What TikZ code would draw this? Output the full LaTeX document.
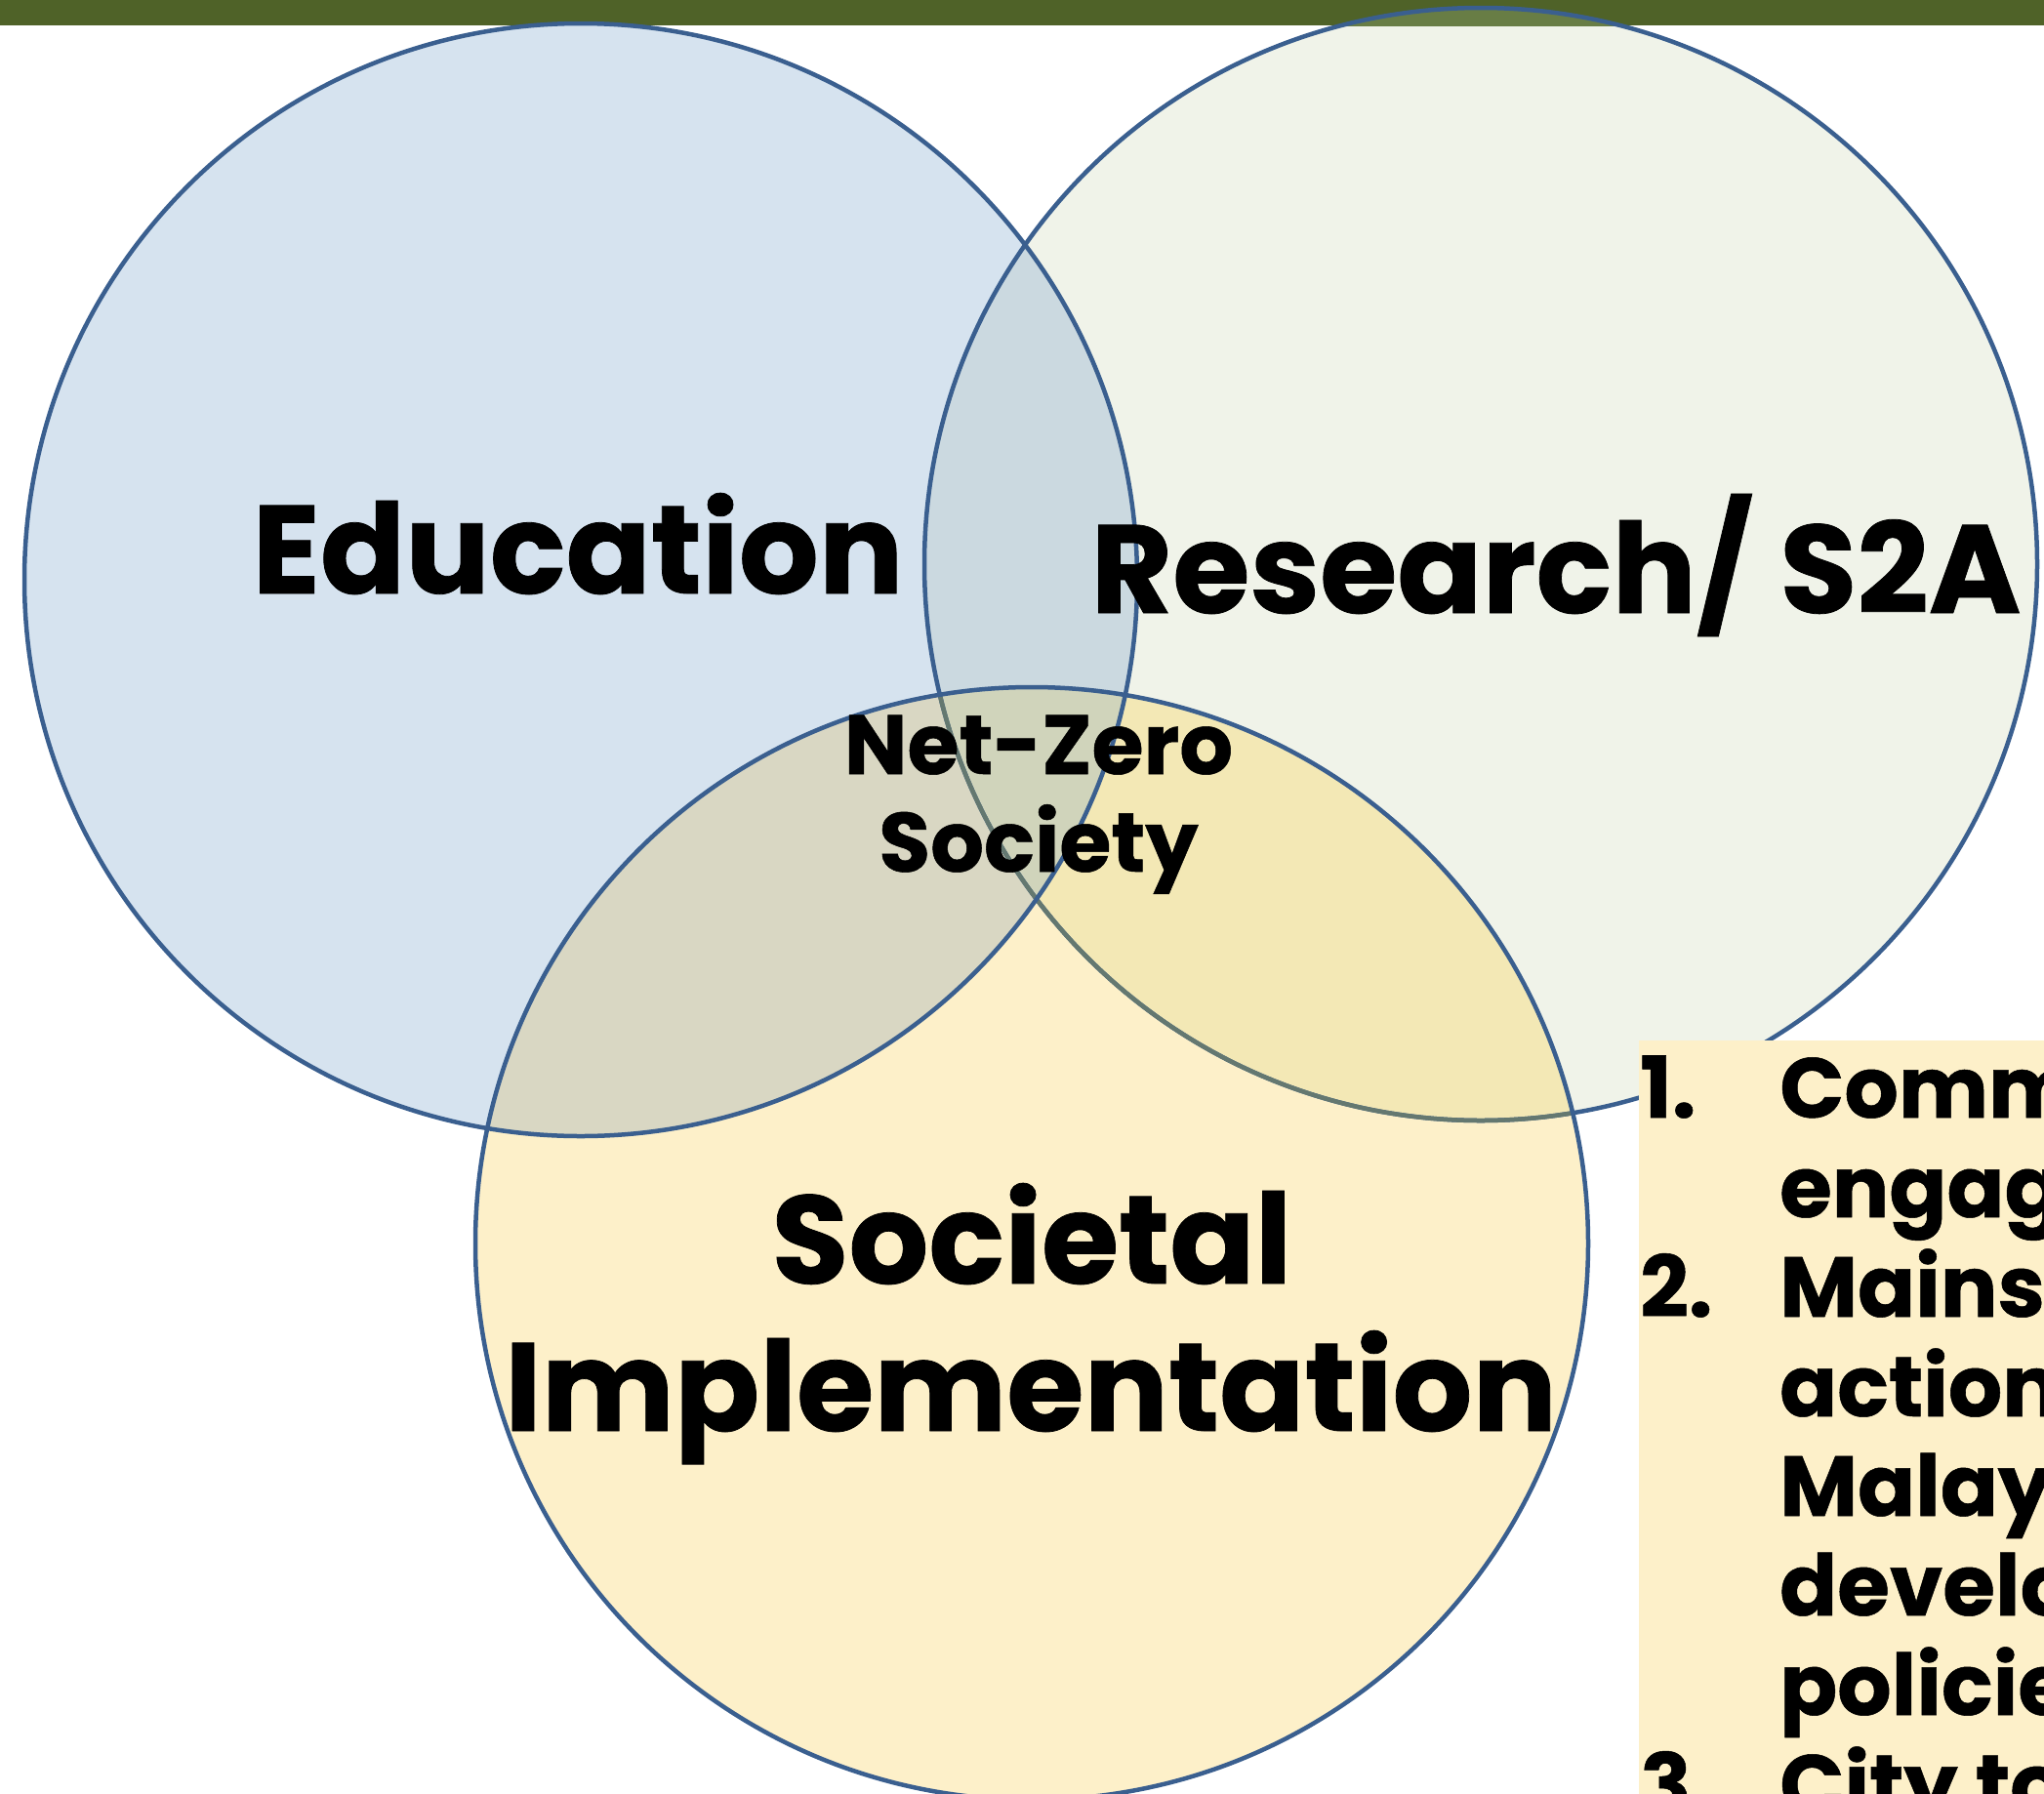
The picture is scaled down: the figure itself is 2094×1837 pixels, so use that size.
\documentclass[tikz,border=0pt]{standalone}
\usepackage{fontspec}
\setmainfont{Poppins}[BoldFeatures={FakeBold=0.6}]
\definecolor{barcol}{HTML}{4F6228}
\definecolor{barover}{HTML}{687D45}
\definecolor{ecol}{HTML}{D6E3EF}
\definecolor{rcol}{HTML}{F0F3E9}
\definecolor{scol}{HTML}{FDF0C9}
\definecolor{ercol}{HTML}{CBD9E0}
\definecolor{escol}{HTML}{D9D7C3}
\definecolor{rscol}{HTML}{F3E8B5}
\definecolor{erscol}{HTML}{D0D4BB}
\definecolor{ringblue}{HTML}{3A5F8F}
\definecolor{ringgrey}{HTML}{647870}
\tikzset{
  ring/.style={draw=ringblue,line width=4.5pt},
  ringg/.style={draw=ringgrey,line width=4.5pt},
  bigtxt/.style={font=\bfseries\fontsize{128.5}{150}\selectfont,inner sep=0pt,anchor=base},
  midtxt/.style={font=\bfseries\fontsize{86}{100}\selectfont,inner sep=0pt,anchor=base},
  listtxt/.style={font=\bfseries\fontsize{87}{100}\selectfont,inner sep=0pt,anchor=base west},
}
\begin{document}
\begin{tikzpicture}[x=1pt,y=-1pt]
\useasboundingbox (0,0) rectangle (2094,1837);
\clip (0,0) rectangle (2094,1837);
\coordinate (ce) at (595,594);
\coordinate (cr) at (1517,578);
\coordinate (cs) at (1057,1274);
% top bar
\fill[barcol] (0,0) rectangle (2094,26);
% fills
\fill[ecol] (ce) circle[radius=570pt];
\fill[rcol] (cr) circle[radius=570pt];
\fill[scol] (cs) circle[radius=570pt];
\begin{scope}\clip (ce) circle[radius=570pt]; \fill[ercol] (cr) circle[radius=570pt];\end{scope}
\begin{scope}\clip (ce) circle[radius=570pt]; \fill[escol] (cs) circle[radius=570pt];\end{scope}
\begin{scope}\clip (cr) circle[radius=570pt]; \fill[rscol] (cs) circle[radius=570pt];\end{scope}
\begin{scope}\clip (ce) circle[radius=570pt]; \clip (cr) circle[radius=570pt]; \fill[erscol] (cs) circle[radius=570pt];\end{scope}
\begin{scope}\clip (0,0) rectangle (2094,26); \fill[barover] (cr) circle[radius=570pt];\end{scope}
% outlines
\draw[ring] (cr) circle[radius=570pt];
\begin{scope}\clip (cs) circle[radius=570pt]; \draw[ringg] (cr) circle[radius=570pt];\end{scope}
\draw[ring] (ce) circle[radius=570pt];
\draw[ring] (cs) circle[radius=570pt];
% labels
\node[bigtxt] (edu) at (592,608) {Education};
\node[bigtxt] (res) at (1594,628) {Research/ S2A};
\node[bigtxt] (soc1) at (1057,1315) {Societal};
\node[bigtxt] (soc2) at (1056,1466) {Implementation};
\node[midtxt] (nz1) at (1064,793) {Net-Zero};
\node[midtxt] (nz2) at (1064,893) {Society};
% list box
\fill[scol] (1679,1066) rectangle (2100,1850);
\node[listtxt] (n1) at (1680,1145) {1.};
\node[listtxt] (l1) at (1823,1145) {Commu};
\node[listtxt] (l2) at (1823,1247) {engage};
\node[listtxt] (n2) at (1680,1349) {2.};
\node[listtxt] (l3) at (1823,1349) {Mainstr};
\node[listtxt] (l4) at (1823,1451) {action};
\node[listtxt] (l5) at (1823,1553) {Malays};
\node[listtxt] (l6) at (1823,1655) {develop};
\node[listtxt] (l7) at (1823,1757) {policies};
\node[listtxt] (n3) at (1680,1859) {3.};
\node[listtxt] (l8) at (1823,1859) {City to};
\end{tikzpicture}
\end{document}
